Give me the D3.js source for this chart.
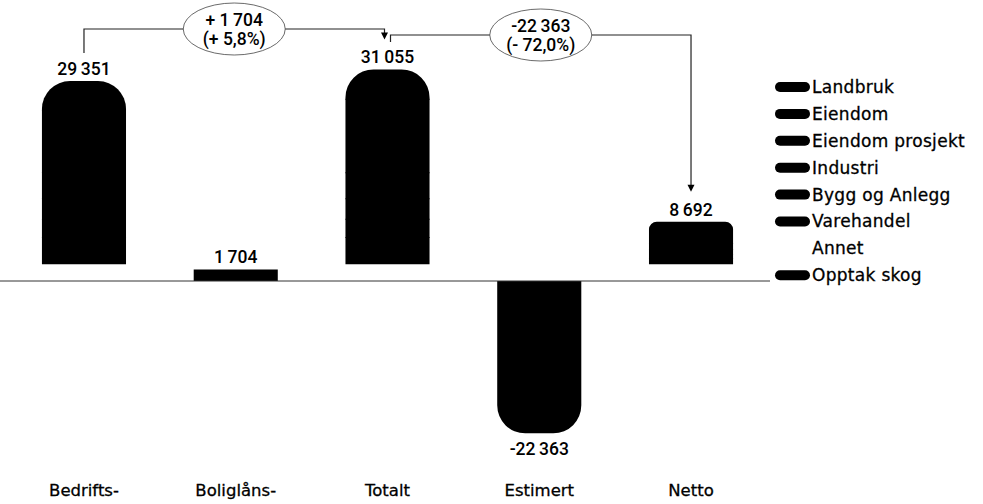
<!DOCTYPE html>
<html><head><meta charset="utf-8">
<script src="https://cdn.jsdelivr.net/npm/d3@7"></script>
<style>
html,body{margin:0;padding:0;background:#fff;}
svg{display:block;}
</style></head>
<body>
<svg id="chart" width="983" height="504"></svg>
<script>
// ---- data ----
const categories = ["Bedrifts-", "Boliglåns-", "Totalt", "Estimert", "Netto"];
const seriesNames = ["Landbruk", "Eiendom", "Eiendom prosjekt", "Industri", "Bygg og Anlegg", "Varehandel", "Annet", "Opptak skog"];
const landbruk        = [4300, 0,    4300,  0,      1000];
const eiendom         = [9100, 1704, 10804, 0,      2100];
const eiendomProsjekt = [3800, 0,    3800,  0,      900];
const industri        = [3000, 0,    3000,  0,      700];
const byggAnlegg      = [2700, 0,    2700,  0,      600];
const varehandel      = [3850, 0,    3850,  0,      792];
const annet           = [2601, 0,    2601,  0,      2600];
const opptakSkog      = [0,    0,    0,     -22363, 0];
const seriesValues = [landbruk, eiendom, eiendomProsjekt, industri, byggAnlegg, varehandel, annet, opptakSkog];
const seriesColors = ["#000", "#000", "#000", "#000", "#000", "#000", "#fff", "#000"];
const roundedSeries = ["Landbruk", "Opptak skog"];
// annotations: from category -> to category
const changes = [["Bedrifts-", "Totalt"], ["Totalt", "Netto"]];

// ---- build table ----
const table = categories.map((c, i) => {
  const row = {cat: c};
  seriesNames.forEach((s, j) => row[s] = seriesValues[j][i]);
  return row;
});
const totals = categories.map((c, i) => d3.sum(seriesValues, v => v[i]));

const svg = d3.select("#chart");
const x = d3.scaleBand().domain(categories).range([8.1, 766.9]).paddingInner(0.446).paddingOuter(0.223);
const y = d3.scaleLinear().domain([-25000, 35000]).range([451.3, 42.6]);

const fmtLocale = d3.formatLocale({decimal: ",", thousands: "\u2009", grouping: [3], currency: ["", ""]});
const fmtInt = fmtLocale.format(",d");
const fmtPct = fmtLocale.format(".1f");
const labelFont = "Roboto, 'Liberation Sans', Arial, sans-serif";
const textFont = "'DejaVu Sans', sans-serif";

// stack: bottom to top = reverse of legend order
const stackKeys = seriesNames.slice().reverse();
const stacked = d3.stack().keys(stackKeys).offset(d3.stackOffsetDiverging)(table);

function segPath(x0, x1, yA, yB, r, dir) {
  const p = d3.path();
  const rr = Math.min(r, Math.abs(yB - yA), (x1 - x0) / 2);
  if (rr <= 0) { p.rect(x0, Math.min(yA, yB), x1 - x0, Math.abs(yB - yA)); return p.toString(); }
  p.moveTo(x0, yA);
  p.lineTo(x0, yB - dir * rr);
  p.arcTo(x0, yB, x0 + rr, yB, rr);
  p.lineTo(x1 - rr, yB);
  p.arcTo(x1, yB, x1, yB - dir * rr, rr);
  p.lineTo(x1, yA);
  p.closePath();
  return p.toString();
}

const gBars = svg.append("g");
stacked.forEach(layer => {
  const key = layer.key;
  const color = seriesColors[seriesNames.indexOf(key)];
  const isRounded = roundedSeries.includes(key);
  gBars.selectAll(null).data(layer.filter(d => d[1] - d[0] !== 0)).join("path")
    .attr("fill", color)
    .attr("d", d => {
      const x0 = x(d.data.cat), x1 = x0 + x.bandwidth();
      const neg = d[1] <= 0 && d[0] < 0;
      // overlap 1px into the segment nearer to zero to avoid seams
      if (neg) {
        const base = d[1] === 0 ? y(0) : y(d[1]) - 1;
        return segPath(x0, x1, base, y(d[0]), isRounded ? 28 : 0, 1);
      }
      const base = d[0] === 0 ? y(0) : y(d[0]) + 1;
      return segPath(x0, x1, base, y(d[1]), isRounded ? 28 : 0, -1);
    });
});

// zero line
svg.append("line").attr("x1", 0).attr("x2", 770).attr("y1", y(0)).attr("y2", y(0))
  .attr("stroke", "#333").attr("stroke-width", 1);

// value labels
svg.append("g").selectAll("text").data(categories).join("text")
  .attr("x", c => x(c) + x.bandwidth() / 2)
  .attr("y", (c, i) => totals[i] >= 0 ? y(totals[i]) - 6 : y(totals[i]) + 22)
  .attr("text-anchor", "middle")
  .attr("font-family", labelFont).attr("font-weight", 500).attr("font-size", 17.5)
  .attr("fill", "#000")
  .text((c, i) => (totals[i] < 0 ? "-" : "") + fmtInt(Math.abs(totals[i])));

// x axis labels
const axis = svg.append("g").attr("transform", "translate(0,478)")
  .call(d3.axisBottom(x).tickSize(0).tickPadding(6));
axis.select(".domain").remove();
axis.selectAll("text").attr("font-family", textFont).attr("font-size", 16.5)
  .attr("fill", "#000").attr("stroke", "#000").attr("stroke-width", 0.3);

// annotations
const gAnn = svg.append("g");
const levels = [29, 35];
changes.forEach(([from, to], k) => {
  const i0 = categories.indexOf(from), i1 = categories.indexOf(to);
  const v0 = totals[i0], v1 = totals[i1];
  const cx0 = x(from) + x.bandwidth() / 2, cx1 = x(to) + x.bandwidth() / 2;
  const sx = k === 0 ? cx0 : cx0 + 3;
  const ex = k === 0 ? cx1 - 3 : cx1;
  const sy = k === 0 ? y(v0) - 28 : 42;
  const ly = levels[k];
  const ey = y(v1) - 30;
  gAnn.append("path")
    .attr("d", `M${sx},${sy}V${ly}H${ex}V${ey - 5}`)
    .attr("fill", "none").attr("stroke", "#222").attr("stroke-width", 1.2);
  gAnn.append("path")
    .attr("d", `M${ex - 3.5},${ey - 7}L${ex + 3.5},${ey - 7}L${ex},${ey}Z`)
    .attr("fill", "#000");
  const diff = v1 - v0, pct = diff / v0 * 100;
  const sign = diff >= 0 ? "+ " : "- ";
  const mx = (sx + ex) / 2;
  gAnn.append("ellipse").attr("cx", mx).attr("cy", ly).attr("rx", 51).attr("ry", 26)
    .attr("fill", "#fff").attr("stroke", "#444").attr("stroke-width", 0.8);
  const t = gAnn.append("text").attr("text-anchor", "middle")
    .attr("font-family", labelFont).attr("font-weight", 500).attr("font-size", 17.5).attr("fill", "#000");
  t.append("tspan").attr("x", mx).attr("y", ly - 3)
    .text((diff >= 0 ? "+ " : "-") + fmtInt(Math.abs(diff)));
  t.append("tspan").attr("x", mx).attr("y", ly + 16)
    .text("(" + sign + fmtPct(Math.abs(pct)) + "%)");
});

// legend
const legend = svg.append("g").attr("transform", "translate(775,87)");
const li = legend.selectAll("g").data(seriesNames).join("g")
  .attr("transform", (d, i) => `translate(0,${i * 26.9})`);
li.append("rect").attr("x", 0).attr("y", -5).attr("width", 35).attr("height", 10).attr("rx", 5)
  .attr("fill", (d, i) => seriesColors[i]);
li.append("text").attr("x", 37).attr("y", 0).attr("dy", "0.35em")
  .attr("font-family", textFont).attr("font-size", 17).attr("letter-spacing", 0.3)
  .attr("fill", "#000").attr("stroke", "#000").attr("stroke-width", 0.3)
  .text(d => d);
</script>
</body></html>
